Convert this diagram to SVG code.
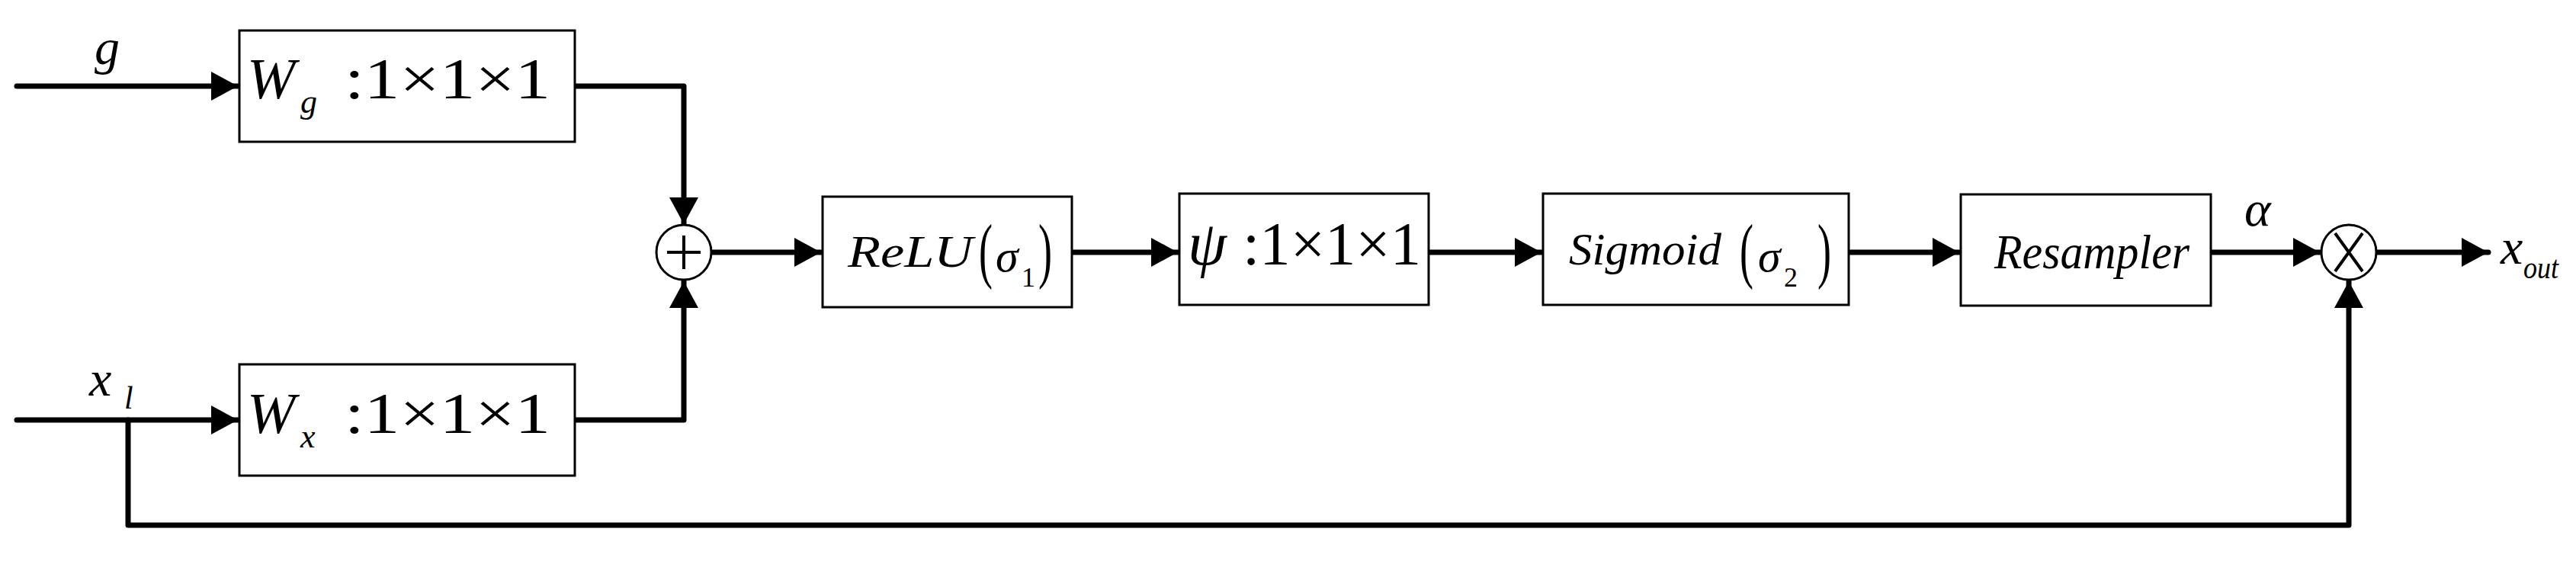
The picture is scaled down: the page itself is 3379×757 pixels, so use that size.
<svg xmlns="http://www.w3.org/2000/svg" width="3379" height="757" viewBox="0 0 3379 757">
<style>
.box{fill:#fff;stroke:#000;stroke-width:3}
.ln{fill:none;stroke:#000;stroke-width:7;stroke-linecap:round;stroke-linejoin:round}
.t{font-family:"Liberation Serif","DejaVu Serif",serif;fill:#000}
.i{font-style:italic}
</style>
<defs>
<marker id="ah" markerUnits="userSpaceOnUse" markerWidth="36" markerHeight="38" refX="35" refY="19" orient="auto">
<path d="M0,0 L35,19 L0,38 Z" fill="#000"/>
</marker>
</defs>
<rect width="3379" height="757" fill="#fff"/>
<g id="connectors">
<path class="ln" d="M22,113 H312" marker-end="url(#ah)"/>
<path class="ln" d="M22,551 H312" marker-end="url(#ah)"/>
<path class="ln" d="M754,113 H897 V294" marker-end="url(#ah)"/>
<path class="ln" d="M754,551 H897 V369" marker-end="url(#ah)"/>
<path class="ln" d="M933,331 H1077" marker-end="url(#ah)"/>
<path class="ln" d="M1406,331 H1545" marker-end="url(#ah)"/>
<path class="ln" d="M1874,331 H2022" marker-end="url(#ah)"/>
<path class="ln" d="M2425,331 H2570" marker-end="url(#ah)"/>
<path class="ln" d="M2900,331 H3043" marker-end="url(#ah)"/>
<path class="ln" d="M3117,331 H3264" marker-end="url(#ah)"/>
<path class="ln" d="M168,551 V689 H3081 V369" marker-end="url(#ah)"/>
</g>
<g id="label-g"><text class="t i" x="124" y="84" font-size="66">g</text></g>
<g id="label-xl"><text class="t i" x="117" y="519" font-size="66">x</text><text class="t i" x="163" y="536" font-size="42">l</text></g>
<g id="Wg">
<rect class="box" x="314" y="40" width="440" height="146"/>
<text class="t i" x="324" y="129" font-size="76">W</text>
<text class="t i" x="394" y="148" font-size="44">g</text>
<text class="t" x="452" y="129" font-size="76" textLength="270" lengthAdjust="spacingAndGlyphs">:1×1×1</text>
</g>
<g id="Wx">
<rect class="box" x="314" y="478" width="440" height="146"/>
<text class="t i" x="324" y="568" font-size="76">W</text>
<text class="t i" x="394" y="587" font-size="44">x</text>
<text class="t" x="452" y="568" font-size="76" textLength="270" lengthAdjust="spacingAndGlyphs">:1×1×1</text>
</g>
<g id="add">
<circle cx="897" cy="331" r="36" fill="#fff" stroke="#000" stroke-width="3"/>
<path d="M875,331 H919 M897,309 V353" stroke="#000" stroke-width="4"/>
</g>
<g id="relu">
<rect class="box" x="1079" y="258" width="327" height="145"/>
<text class="t i" x="1112" y="350" font-size="60" textLength="164" lengthAdjust="spacingAndGlyphs">ReLU</text>
<text class="t" x="1284" y="360" font-size="96" textLength="18" lengthAdjust="spacingAndGlyphs">(</text>
<text class="t i" x="1306" y="356" font-size="60">σ</text>
<text class="t" x="1340" y="376" font-size="36">1</text>
<text class="t" x="1362" y="360" font-size="96" textLength="18" lengthAdjust="spacingAndGlyphs">)</text>
</g>
<g id="psi">
<rect class="box" x="1547" y="254" width="327" height="146"/>
<text class="t i" x="1558" y="347" font-size="82">ψ</text>
<text class="t" x="1630" y="347" font-size="80" textLength="234" lengthAdjust="spacingAndGlyphs">:1×1×1</text>
</g>
<g id="sigmoid">
<rect class="box" x="2024" y="254" width="401" height="146"/>
<text class="t i" x="2058" y="347" font-size="60" textLength="200" lengthAdjust="spacingAndGlyphs">Sigmoid</text>
<text class="t" x="2282" y="360" font-size="96" textLength="18" lengthAdjust="spacingAndGlyphs">(</text>
<text class="t i" x="2306" y="356" font-size="60">σ</text>
<text class="t" x="2340" y="376" font-size="36">2</text>
<text class="t" x="2384" y="360" font-size="96" textLength="18" lengthAdjust="spacingAndGlyphs">)</text>
</g>
<g id="resampler">
<rect class="box" x="2572" y="255" width="328" height="146"/>
<text class="t i" x="2616" y="352" font-size="64" textLength="256" lengthAdjust="spacingAndGlyphs">Resampler</text>
</g>
<g id="label-alpha"><text class="t i" x="2944" y="296" font-size="66">α</text></g>
<g id="mul">
<circle cx="3081" cy="331" r="36" fill="#fff" stroke="#000" stroke-width="3"/>
<path d="M3063,306 L3099,356 M3099,306 L3063,356" stroke="#000" stroke-width="4"/>
</g>
<g id="label-xout"><text class="t i" x="3280" y="346" font-size="66">x</text><text class="t i" x="3310" y="365" font-size="42" textLength="46" lengthAdjust="spacingAndGlyphs">out</text></g>
</svg>
